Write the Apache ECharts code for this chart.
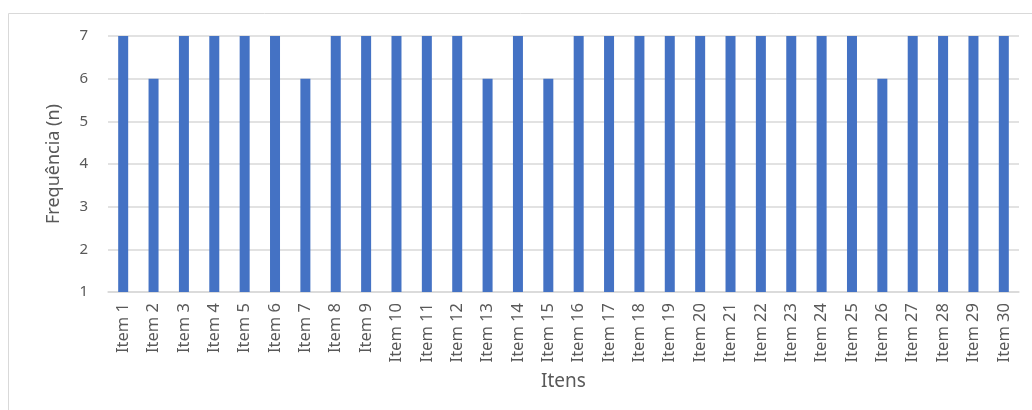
<!DOCTYPE html>
<html><head><meta charset="utf-8">
<script src="https://cdn.jsdelivr.net/npm/echarts@6/dist/echarts.min.js"></script>
<style>html,body{margin:0;padding:0;background:#fff}#c{width:1032px;height:410px}</style>
</head><body><div id="c"></div>
<script>
const categories = ["Item 1","Item 2","Item 3","Item 4","Item 5","Item 6","Item 7","Item 8","Item 9","Item 10","Item 11","Item 12","Item 13","Item 14","Item 15","Item 16","Item 17","Item 18","Item 19","Item 20","Item 21","Item 22","Item 23","Item 24","Item 25","Item 26","Item 27","Item 28","Item 29","Item 30"];
const frequencia = [7,6,7,7,7,7,6,7,7,7,7,7,6,7,6,7,7,7,7,7,7,7,7,7,7,6,7,7,7,7];
const yTicks = [1,7,1]; // min, max, interval
const xTitle = "Itens";
const yTitle = "Frequência (n)";

const chart = echarts.init(document.getElementById('c'), null, {renderer:'canvas'});
const font = "'Noto Sans', 'Open Sans', sans-serif";
chart.setOption({
  animation:false,
  graphic:[{type:'rect',shape:{x:8.5,y:13.5,width:1030,height:420},style:{fill:'none',stroke:'#d9d9d9',lineWidth:1},silent:true}],
  grid:{left:108,right:13,top:36,bottom:118,containLabel:false},
  xAxis:{type:'category',data:categories,
    name:xTitle,nameLocation:'middle',nameGap:80,
    nameTextStyle:{color:'#595959',fontSize:19,fontFamily:font},
    axisLine:{lineStyle:{color:'#d9d9d9',width:1.5}},axisTick:{show:false},
    axisLabel:{rotate:90,interval:0,color:'#595959',fontSize:16.5,fontFamily:font,margin:11}},
  yAxis:{type:'value',min:yTicks[0],max:yTicks[1],interval:yTicks[2],
    name:yTitle,nameLocation:'middle',nameGap:45,
    nameTextStyle:{color:'#595959',fontSize:18,fontFamily:font},
    axisLine:{show:false},axisTick:{show:false},
    axisLabel:{color:'#595959',fontSize:15,fontFamily:font,margin:20},
    splitLine:{lineStyle:{color:'#d9d9d9',width:1.5}}},
  series:[{type:'bar',data:frequencia,barWidth:10,itemStyle:{color:'#4472C4'}}]
});
</script></body></html>
